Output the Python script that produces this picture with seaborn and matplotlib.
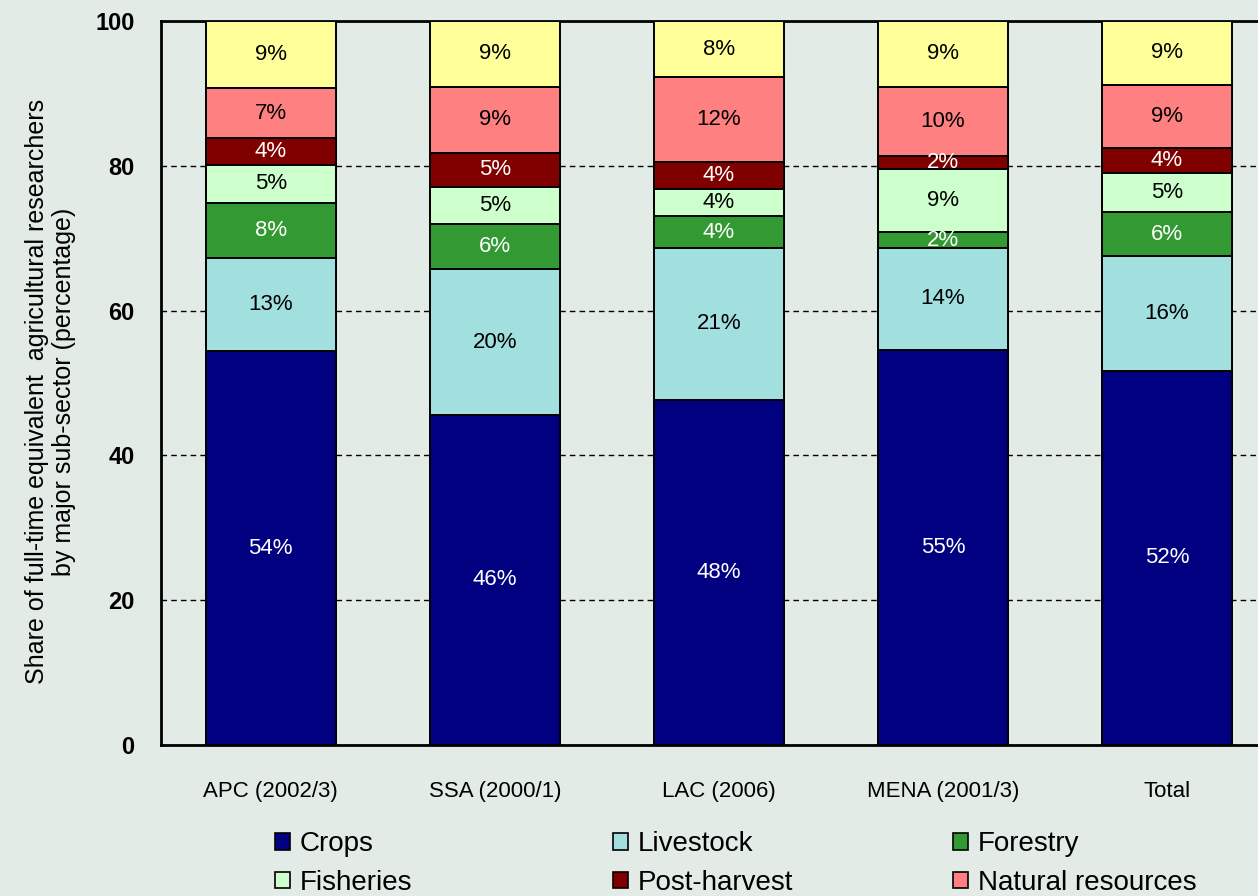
import matplotlib
matplotlib.use("Agg")
import matplotlib.pyplot as plt
import seaborn as sns
import pandas as pd
from matplotlib.patches import Patch

# ---- data (percent shares) ----
regions = ["APC (2002/3)", "SSA (2000/1)", "LAC (2006)", "MENA (2001/3)", "Total"]
sectors = ["Crops", "Livestock", "Forestry", "Fisheries", "Post-harvest",
           "Natural resources", "Other"]
crops = [54.4, 45.6, 47.7, 54.6, 51.7]
livestock = [12.9, 20.1, 21.0, 14.1, 15.8]
forestry = [7.6, 6.2, 4.3, 2.1, 6.1]
fisheries = [5.2, 5.2, 3.8, 8.7, 5.4]
post_harvest = [3.7, 4.7, 3.7, 1.8, 3.5]
natural_resources = [6.9, 9.1, 11.7, 9.6, 8.7]
other = [9.3, 9.1, 7.8, 9.1, 8.8]
yticks = [0, 20, 40, 60, 80, 100]

series = [crops, livestock, forestry, fisheries, post_harvest, natural_resources, other]
colors = ["#000080", "#A2DFDF", "#339933", "#CCFFCC", "#800000", "#FF8080", "#FFFF99"]
text_colors = ["white", "black", "white", "black", "white", "black", "black"]

rows = []
for s, vals in zip(sectors, series):
    for r, v in zip(regions, vals):
        rows.append({"region": r, "sector": s, "value": v})
df = pd.DataFrame(rows)
df["cum"] = df.groupby("region")["value"].cumsum()
df["start"] = df["cum"] - df["value"]

bg = "#E3EBE6"
sns.set_theme(style="white")
plt.rcParams["font.family"] = ["Liberation Sans", "DejaVu Sans"]
plt.rcParams["text.color"] = "black"
plt.rcParams["axes.labelcolor"] = "black"
plt.rcParams["xtick.color"] = "black"
plt.rcParams["ytick.color"] = "black"
plt.rcParams["legend.labelcolor"] = "black"

fig = plt.figure(figsize=(12.58, 8.96), dpi=100, facecolor=bg)
ax = fig.add_axes([161 / 1258, 151 / 896, 1097 / 1258, 724 / 896])
ax.set_facecolor(bg)

# stacked bars: draw cumulative totals from the top layer down
for s, c in reversed(list(zip(sectors, colors))):
    sub = df[df["sector"] == s]
    sns.barplot(data=sub, x="region", y="cum", order=regions, color=c,
                saturation=1, width=0.58, edgecolor="black", linewidth=1.4,
                errorbar=None, ax=ax, zorder=3)

# segment labels
xpos = {r: i for i, r in enumerate(regions)}
for s, tc in zip(sectors, text_colors):
    sub = df[df["sector"] == s]
    for _, row in sub.iterrows():
        ax.text(xpos[row["region"]], row["start"] + row["value"] / 2,
                f"{round(row['value'])}%", ha="center", va="center",
                fontsize=16, color=tc, zorder=5)

ax.set_xlim(-0.49, 4.406)
ax.set_ylim(0, 100)
ax.set_yticks(yticks)
ax.set_yticklabels([str(t) for t in yticks], fontsize=17, fontweight="bold")
ax.tick_params(axis="y", direction="out", length=8, width=1.5, pad=11, color="black")
ax.tick_params(axis="x", length=0, pad=26, labelsize=16)
ax.set_xlabel("")
ax.set_ylabel("Share of full-time equivalent  agricultural researchers\n"
              "by major sub-sector (percentage)", fontsize=18, linespacing=1.15)
ax.yaxis.set_label_coords((76 - 161) / 1097, 0.488)

ax.set_axisbelow(True)
ax.yaxis.grid(True, linestyle=(0, (4, 3)), color="black", linewidth=1)
for side in ["left", "top", "bottom"]:
    ax.spines[side].set_visible(True)
    ax.spines[side].set_color("black")
    ax.spines[side].set_linewidth(2)
ax.spines["right"].set_visible(False)

# legend in three columns, row order as in the original (third row is cropped
# off in the reference, so only the six visible entries are shown)
handles = [Patch(facecolor=c, edgecolor="black", linewidth=1.2) for c in colors]
col_groups = [[0, 3], [1, 4], [2, 5]]
col_x = [275, 613, 953]
for grp, x in zip(col_groups, col_x):
    fig.legend([handles[i] for i in grp], [sectors[i] for i in grp],
               loc="upper left", bbox_to_anchor=(x / 1258, 1 - 831 / 896),
               frameon=False, fontsize=20, handlelength=0.55,
               handleheight=0.55, handletextpad=0.35, labelspacing=0.46,
               borderpad=0, borderaxespad=0)

fig.savefig("out.png", dpi=100, facecolor=bg)
